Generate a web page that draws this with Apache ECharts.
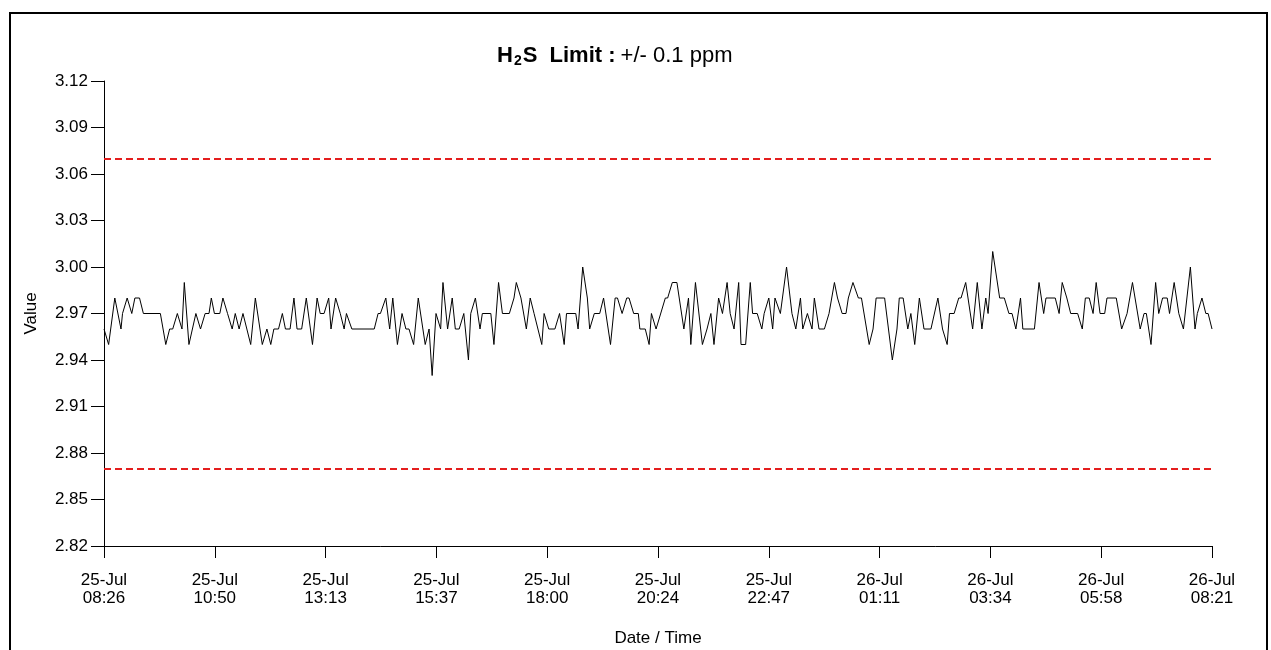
<!DOCTYPE html>
<html>
<head>
<meta charset="utf-8">
<title>H2S Limit</title>
<script src="https://cdn.jsdelivr.net/npm/echarts@6/dist/echarts.min.js"></script>
<style>
  html, body { margin: 0; padding: 0; background: #fff; }
  #chart { width: 1271px; height: 650px; }
</style>
</head>
<body>
<div id="chart"></div>
<script>
// minutes after 25-Jul 08:26 and the H2S reading (ppm) at that time
const minutes = [
  0, 6, 14, 22, 24, 30, 36, 40, 46, 51, 73, 80, 85, 89, 95, 101, 104, 110, 119, 125, 131, 136, 139,
  143, 150, 154, 160, 166, 170, 175, 180, 190, 196, 205, 211, 216, 220, 226, 231, 235, 241, 246, 250, 256, 262, 264, 270, 276, 280,
  285, 291, 294, 300, 306, 311, 314, 321, 350, 355, 358, 365, 370, 374, 380, 386, 391, 395, 401, 407, 416, 421, 425,
  430, 436, 439, 445, 451, 455, 460, 466, 472, 475, 481, 487, 490, 501, 505, 511, 516, 525, 531, 534, 540, 547, 552, 557, 567,
  570, 576, 584, 590, 596, 599, 611, 614, 620, 626, 629, 635, 642, 647, 656, 662, 665, 671, 677, 680, 686, 692, 694, 701, 706,
  709, 715, 727, 730, 736, 742, 751, 757, 760, 766, 775, 781, 786, 790, 796, 801, 807, 811, 816, 822, 825, 831, 837, 840, 846, 852,
  855, 861, 866, 869, 876, 884, 891, 896, 902, 905, 911, 917, 920, 926, 933, 939, 946, 950, 956, 961, 964, 970, 977, 981, 991, 996,
  1000, 1011, 1016, 1021, 1027, 1030, 1035, 1041, 1045, 1050, 1056, 1062, 1071, 1080, 1086, 1092, 1095, 1101, 1107, 1110, 1116, 1125, 1131, 1137,
  1142, 1145, 1151, 1160, 1166, 1172, 1176, 1181, 1187, 1190, 1205, 1211, 1217, 1220, 1232, 1237, 1241, 1247, 1252, 1261, 1267, 1271, 1276, 1281,
  1285, 1290, 1296, 1299, 1311, 1318, 1320, 1325, 1332, 1342, 1347, 1350, 1356, 1362, 1366, 1371, 1377, 1380, 1386, 1392, 1398, 1407, 1413, 1416, 1422, 1427, 1430, 1435
];
const h2sValues = [
  2.96, 2.95, 2.98, 2.96, 2.97, 2.98, 2.97, 2.98, 2.98, 2.97, 2.97, 2.95, 2.96, 2.96, 2.97, 2.96, 2.99, 2.95, 2.97, 2.96, 2.97, 2.97, 2.98,
  2.97, 2.97, 2.98, 2.97, 2.96, 2.97, 2.96, 2.97, 2.95, 2.98, 2.95, 2.96, 2.95, 2.96, 2.96, 2.97, 2.96, 2.96, 2.98, 2.96, 2.96, 2.98, 2.98, 2.95, 2.98, 2.97,
  2.97, 2.98, 2.96, 2.98, 2.97, 2.96, 2.97, 2.96, 2.96, 2.97, 2.97, 2.98, 2.96, 2.98, 2.95, 2.97, 2.96, 2.96, 2.95, 2.98, 2.95, 2.96, 2.93,
  2.97, 2.96, 2.99, 2.96, 2.98, 2.96, 2.96, 2.97, 2.94, 2.97, 2.98, 2.96, 2.97, 2.97, 2.95, 2.99, 2.97, 2.97, 2.98, 2.99, 2.98, 2.96, 2.98, 2.97, 2.95,
  2.97, 2.96, 2.96, 2.97, 2.95, 2.97, 2.97, 2.96, 3.00, 2.98, 2.96, 2.97, 2.97, 2.98, 2.95, 2.98, 2.98, 2.97, 2.98, 2.98, 2.97, 2.97, 2.96, 2.96, 2.95,
  2.97, 2.96, 2.98, 2.98, 2.99, 2.99, 2.96, 2.98, 2.95, 2.99, 2.95, 2.96, 2.97, 2.95, 2.98, 2.97, 2.99, 2.97, 2.96, 2.99, 2.95, 2.95, 2.99, 2.97, 2.97, 2.96,
  2.97, 2.98, 2.96, 2.98, 2.97, 3.00, 2.97, 2.96, 2.98, 2.96, 2.97, 2.96, 2.98, 2.96, 2.96, 2.97, 2.99, 2.98, 2.97, 2.97, 2.98, 2.99, 2.98, 2.98, 2.95, 2.96,
  2.98, 2.98, 2.96, 2.94, 2.96, 2.98, 2.98, 2.96, 2.97, 2.95, 2.98, 2.96, 2.96, 2.98, 2.96, 2.95, 2.97, 2.97, 2.98, 2.98, 2.99, 2.96, 2.99, 2.96,
  2.98, 2.97, 3.01, 2.98, 2.98, 2.97, 2.97, 2.96, 2.98, 2.96, 2.96, 2.99, 2.97, 2.98, 2.98, 2.97, 2.99, 2.98, 2.97, 2.97, 2.96, 2.98, 2.98, 2.97,
  2.99, 2.97, 2.97, 2.98, 2.98, 2.96, 2.96, 2.97, 2.99, 2.96, 2.97, 2.97, 2.95, 2.99, 2.97, 2.98, 2.98, 2.97, 2.99, 2.97, 2.96, 3.00, 2.96, 2.97, 2.98, 2.97, 2.97, 2.96
];
const xTickLabels = [
  "25-Jul\n08:26", "25-Jul\n10:50", "25-Jul\n13:13", "25-Jul\n15:37", "25-Jul\n18:00", "25-Jul\n20:24",
  "25-Jul\n22:47", "26-Jul\n01:11", "26-Jul\n03:34", "26-Jul\n05:58", "26-Jul\n08:21"
];
const upperLimit = 3.07;
const lowerLimit = 2.87;
const spanMinutes = 1435;

const font = "'Liberation Sans', Arial, sans-serif";
const xStep = spanMinutes / (xTickLabels.length - 1);

const chart = echarts.init(document.getElementById("chart"));
const option = {
  animation: false,
  backgroundColor: "#fff",
  textStyle: { fontFamily: font, color: "#000" },
  graphic: [
    {
      type: "rect",
      silent: true,
      shape: { x: 10, y: 13, width: 1257, height: 700 },
      style: { fill: "none", stroke: "#000", lineWidth: 2 }
    }
  ],
  title: {
    left: 497,
    top: 44,
    padding: 0,
    text: "{b|H}{s|2}{b|S  Limit :} {n|+/- 0.1 ppm}",
    textStyle: {
      rich: {
        b: { fontFamily: font, fontSize: 22, fontWeight: "bold", color: "#000" },
        s: { fontFamily: font, fontSize: 14, fontWeight: "bold", color: "#000", padding: [10, 1, 0, 1] },
        n: { fontFamily: font, fontSize: 22, fontWeight: "normal", color: "#000" }
      }
    }
  },
  grid: { left: 104, right: 59, top: 81, bottom: 104, outerBoundsMode: "none" },
  xAxis: {
    type: "value",
    min: 0,
    max: spanMinutes,
    interval: xStep,
    name: "Date / Time",
    nameLocation: "middle",
    nameGap: 84,
    nameTextStyle: { fontSize: 17, color: "#000", fontFamily: font },
    axisLine: { lineStyle: { color: "#000", width: 1 } },
    axisTick: { length: 12, lineStyle: { color: "#000" } },
    splitLine: { show: false },
    axisLabel: {
      margin: 25,
      fontSize: 17,
      lineHeight: 18,
      color: "#000",
      fontFamily: font,
      formatter: v => xTickLabels[Math.round(v / xStep)]
    }
  },
  yAxis: {
    type: "value",
    min: 2.82,
    max: 3.12,
    interval: 0.03,
    name: "Value",
    nameLocation: "middle",
    nameGap: 64,
    nameTextStyle: { fontSize: 17, color: "#000", fontFamily: font },
    axisLine: { show: true, lineStyle: { color: "#000", width: 1 } },
    axisTick: { show: true, length: 13, lineStyle: { color: "#000" } },
    splitLine: { show: false },
    axisLabel: {
      margin: 16,
      fontSize: 17,
      color: "#000",
      fontFamily: font,
      formatter: v => v.toFixed(2)
    }
  },
  series: [
    {
      name: "H2S",
      type: "line",
      showSymbol: false,
      symbol: "none",
      lineStyle: { color: "#000", width: 1 },
      data: minutes.map((m, i) => [m, h2sValues[i]]),
      markLine: {
        silent: true,
        symbol: "none",
        label: { show: false },
        lineStyle: { color: "#e41e1e", type: [7, 4], width: 2 },
        data: [{ yAxis: upperLimit }, { yAxis: lowerLimit }]
      }
    }
  ]
};
chart.setOption(option);
</script>
</body>
</html>
